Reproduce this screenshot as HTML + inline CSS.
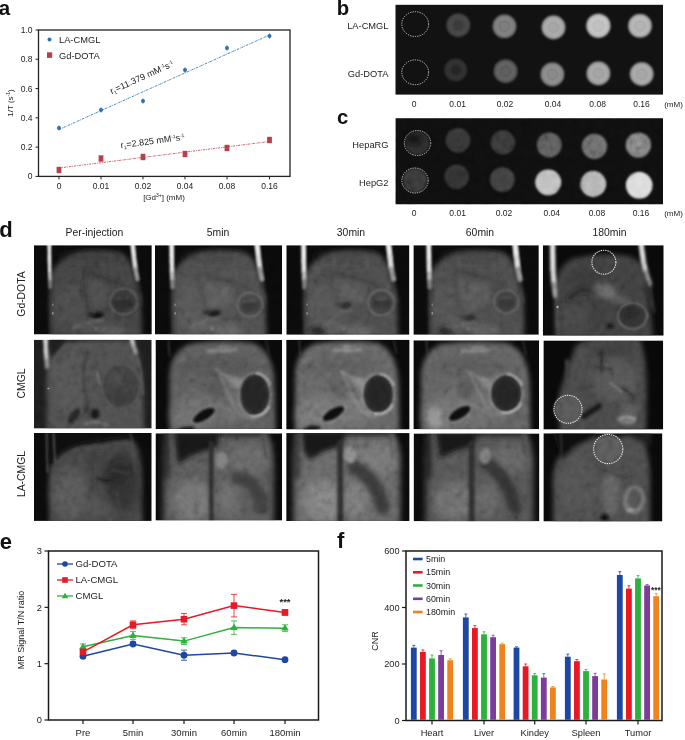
<!DOCTYPE html>
<html><head><meta charset="utf-8"><title>Figure</title>
<style>html,body{margin:0;padding:0;background:#fff}svg{display:block;filter:blur(0.45px);font-family:'Liberation Sans', sans-serif}</style></head><body>
<svg width="685" height="740" viewBox="0 0 685 740">
<defs><filter id="b1" x="-20%" y="-20%" width="140%" height="140%"><feGaussianBlur stdDeviation="0.9"/></filter><filter id="b2" x="-30%" y="-30%" width="160%" height="160%"><feGaussianBlur stdDeviation="2"/></filter><filter id="b3" x="-30%" y="-30%" width="160%" height="160%"><feGaussianBlur stdDeviation="3.5"/></filter><filter id="b5" x="-40%" y="-40%" width="180%" height="180%"><feGaussianBlur stdDeviation="6"/></filter><filter id="noise" x="0" y="0" width="100%" height="100%"><feTurbulence type="fractalNoise" baseFrequency="0.14" numOctaves="2" seed="7" result="t"/><feColorMatrix in="t" type="matrix" values="0.6 0.6 0.6 0 -0.4  0.6 0.6 0.6 0 -0.4  0.6 0.6 0.6 0 -0.4  0 0 0 0 1"/><feGaussianBlur stdDeviation="0.7"/></filter><filter id="f0_6" filterUnits="userSpaceOnUse" x="20" y="235" width="655" height="295"><feGaussianBlur stdDeviation="0.6"/></filter><filter id="f1" filterUnits="userSpaceOnUse" x="20" y="235" width="655" height="295"><feGaussianBlur stdDeviation="1"/></filter><filter id="f1_5" filterUnits="userSpaceOnUse" x="20" y="235" width="655" height="295"><feGaussianBlur stdDeviation="1.5"/></filter><filter id="f2" filterUnits="userSpaceOnUse" x="20" y="235" width="655" height="295"><feGaussianBlur stdDeviation="2"/></filter><filter id="f2_5" filterUnits="userSpaceOnUse" x="20" y="235" width="655" height="295"><feGaussianBlur stdDeviation="2.5"/></filter><filter id="f4" filterUnits="userSpaceOnUse" x="20" y="235" width="655" height="295"><feGaussianBlur stdDeviation="4"/></filter></defs>
<rect width="685" height="740" fill="#fff"/>
<g id="pa">
<text x="-1.2" y="15.3" font-size="20.5" text-anchor="start" font-weight="bold" fill="#111" >a</text>
<rect x="38.5" y="30" width="251.5" height="146.4" fill="none" stroke="#222" stroke-width="1.3"/>
<line x1="35.5" y1="30.0" x2="38.5" y2="30.0" stroke="#222" stroke-width="1"/>
<text x="32.5" y="33.0" font-size="8.5" text-anchor="end" font-weight="normal" fill="#222" >1.0</text>
<line x1="35.5" y1="59.28" x2="38.5" y2="59.28" stroke="#222" stroke-width="1"/>
<text x="32.5" y="62.28" font-size="8.5" text-anchor="end" font-weight="normal" fill="#222" >0.8</text>
<line x1="35.5" y1="88.56" x2="38.5" y2="88.56" stroke="#222" stroke-width="1"/>
<text x="32.5" y="91.56" font-size="8.5" text-anchor="end" font-weight="normal" fill="#222" >0.6</text>
<line x1="35.5" y1="117.84" x2="38.5" y2="117.84" stroke="#222" stroke-width="1"/>
<text x="32.5" y="120.84" font-size="8.5" text-anchor="end" font-weight="normal" fill="#222" >0.4</text>
<line x1="35.5" y1="147.12" x2="38.5" y2="147.12" stroke="#222" stroke-width="1"/>
<text x="32.5" y="150.12" font-size="8.5" text-anchor="end" font-weight="normal" fill="#222" >0.2</text>
<line x1="35.5" y1="176.4" x2="38.5" y2="176.4" stroke="#222" stroke-width="1"/>
<text x="32.5" y="179.4" font-size="8.5" text-anchor="end" font-weight="normal" fill="#222" >0</text>
<line x1="59" y1="176.4" x2="59" y2="179.4" stroke="#222" stroke-width="1"/>
<text x="59" y="189.4" font-size="8.5" text-anchor="middle" font-weight="normal" fill="#222" >0</text>
<line x1="101" y1="176.4" x2="101" y2="179.4" stroke="#222" stroke-width="1"/>
<text x="101" y="189.4" font-size="8.5" text-anchor="middle" font-weight="normal" fill="#222" >0.01</text>
<line x1="143" y1="176.4" x2="143" y2="179.4" stroke="#222" stroke-width="1"/>
<text x="143" y="189.4" font-size="8.5" text-anchor="middle" font-weight="normal" fill="#222" >0.02</text>
<line x1="185" y1="176.4" x2="185" y2="179.4" stroke="#222" stroke-width="1"/>
<text x="185" y="189.4" font-size="8.5" text-anchor="middle" font-weight="normal" fill="#222" >0.04</text>
<line x1="227" y1="176.4" x2="227" y2="179.4" stroke="#222" stroke-width="1"/>
<text x="227" y="189.4" font-size="8.5" text-anchor="middle" font-weight="normal" fill="#222" >0.08</text>
<line x1="269.5" y1="176.4" x2="269.5" y2="179.4" stroke="#222" stroke-width="1"/>
<text x="269.5" y="189.4" font-size="8.5" text-anchor="middle" font-weight="normal" fill="#222" >0.16</text>
<text x="164" y="200" font-size="8" text-anchor="middle" font-weight="normal" fill="#222" >[Gd<tspan font-size="5" dy="-3">3+</tspan><tspan dy="3">] (mM)</tspan></text>
<text transform="translate(13,103) rotate(-90)" font-size="8" text-anchor="middle" fill="#222">1/T (s<tspan font-size="5" dy="-3">-1</tspan><tspan dy="3">)</tspan></text>
<line x1="59" y1="129.5" x2="269.5" y2="35" stroke="#4a86c8" stroke-width="1" stroke-dasharray="2.4,0.9,0.8,0.9"/>
<line x1="59" y1="168" x2="269.5" y2="141.5" stroke="#cc6870" stroke-width="1" stroke-dasharray="2.4,0.9,0.8,0.9"/>
<line x1="59" y1="125.5" x2="59" y2="130.5" stroke="#2f6fb8" stroke-width="1"/>
<circle cx="59" cy="128" r="2" fill="#2f6fb8"/>
<line x1="101" y1="107.5" x2="101" y2="112.5" stroke="#2f6fb8" stroke-width="1"/>
<circle cx="101" cy="110" r="2" fill="#2f6fb8"/>
<line x1="143" y1="98.5" x2="143" y2="103.5" stroke="#2f6fb8" stroke-width="1"/>
<circle cx="143" cy="101" r="2" fill="#2f6fb8"/>
<line x1="185" y1="67.5" x2="185" y2="72.5" stroke="#2f6fb8" stroke-width="1"/>
<circle cx="185" cy="70" r="2" fill="#2f6fb8"/>
<line x1="227" y1="45.5" x2="227" y2="50.5" stroke="#2f6fb8" stroke-width="1"/>
<circle cx="227" cy="48" r="2" fill="#2f6fb8"/>
<line x1="269.5" y1="33.5" x2="269.5" y2="38.5" stroke="#2f6fb8" stroke-width="1"/>
<circle cx="269.5" cy="36" r="2" fill="#2f6fb8"/>
<rect x="56.6" y="166.8" width="4.8" height="6.4" fill="#b8404a"/>
<rect x="98.6" y="155.3" width="4.8" height="6.4" fill="#b8404a"/>
<rect x="140.6" y="153.8" width="4.8" height="6.4" fill="#b8404a"/>
<rect x="182.6" y="150.8" width="4.8" height="6.4" fill="#b8404a"/>
<rect x="224.6" y="144.8" width="4.8" height="6.4" fill="#b8404a"/>
<rect x="267.1" y="136.8" width="4.8" height="6.4" fill="#b8404a"/>
<circle cx="49.5" cy="39.5" r="2" fill="#2f6fb8"/>
<text x="59" y="42.8" font-size="9.3" text-anchor="start" font-weight="normal" fill="#222" >LA-CMGL</text>
<rect x="47" y="52.3" width="5.2" height="5.6" fill="#b8404a"/>
<text x="59" y="58.6" font-size="9.3" text-anchor="start" font-weight="normal" fill="#222" >Gd-DOTA</text>
<text transform="translate(143,80) rotate(-24.5)" font-size="9" text-anchor="middle" fill="#222">r<tspan font-size="5" dy="1.5">1</tspan><tspan dy="-1.5">=11.379 mM</tspan><tspan font-size="5" dy="-3">-1</tspan><tspan dy="3">s</tspan><tspan font-size="5" dy="-3">-1</tspan></text>
<text transform="translate(153,144) rotate(-7.5)" font-size="9" text-anchor="middle" fill="#222">r<tspan font-size="5" dy="1.5">1</tspan><tspan dy="-1.5">=2.825 mM</tspan><tspan font-size="5" dy="-3">-1</tspan><tspan dy="3">s</tspan><tspan font-size="5" dy="-3">-1</tspan></text>
</g>
<g id="pb">
<text x="336.7" y="15.2" font-size="20.3" text-anchor="start" font-weight="bold" fill="#111" >b</text>
<rect x="395.5" y="4.8" width="267.5" height="89.8" fill="rgb(18,18,18)"/>
<g filter="url(#b1)">
<circle cx="458.3" cy="25.2" r="11.8" fill="rgb(70,70,70)"/>
<circle cx="458.3" cy="25.2" r="5.3" fill="rgb(58,58,58)"/>
</g>
<g filter="url(#b1)">
<circle cx="504.5" cy="26.3" r="11.8" fill="rgb(122,122,122)"/>
<circle cx="504.5" cy="26.3" r="7.3" fill="none" stroke="rgb(142,142,142)" stroke-width="1.3"/><circle cx="504.5" cy="26.3" r="5.0" fill="none" stroke="rgb(108,108,108)" stroke-width="0.9"/><circle cx="504.5" cy="26.3" r="2.8" fill="none" stroke="rgb(138,138,138)" stroke-width="1"/>
</g>
<g filter="url(#b1)">
<circle cx="553.5" cy="27.4" r="11.8" fill="rgb(164,164,164)"/>
<circle cx="553.5" cy="27.4" r="7.3" fill="none" stroke="rgb(184,184,184)" stroke-width="1.3"/><circle cx="553.5" cy="27.4" r="5.0" fill="none" stroke="rgb(150,150,150)" stroke-width="0.9"/><circle cx="553.5" cy="27.4" r="2.8" fill="none" stroke="rgb(180,180,180)" stroke-width="1"/>
</g>
<g filter="url(#b1)">
<circle cx="598.4" cy="25.8" r="12.1" fill="rgb(190,190,190)"/>
<circle cx="598.4" cy="25.8" r="7.5" fill="none" stroke="rgb(210,210,210)" stroke-width="1.3"/><circle cx="598.4" cy="25.8" r="5.1" fill="none" stroke="rgb(176,176,176)" stroke-width="0.9"/><circle cx="598.4" cy="25.8" r="2.9" fill="none" stroke="rgb(206,206,206)" stroke-width="1"/>
</g>
<g filter="url(#b1)">
<circle cx="640" cy="25.8" r="11.8" fill="rgb(176,176,176)"/>
<circle cx="640" cy="25.8" r="7.3" fill="none" stroke="rgb(196,196,196)" stroke-width="1.3"/><circle cx="640" cy="25.8" r="5.0" fill="none" stroke="rgb(162,162,162)" stroke-width="0.9"/><circle cx="640" cy="25.8" r="2.8" fill="none" stroke="rgb(192,192,192)" stroke-width="1"/>
</g>
<g filter="url(#b1)">
<circle cx="455.7" cy="70" r="11.3" fill="rgb(50,50,50)"/>
<circle cx="455.7" cy="70" r="5.1" fill="rgb(38,38,38)"/>
</g>
<g filter="url(#b1)">
<circle cx="505.6" cy="71.2" r="11.8" fill="rgb(92,92,92)"/>
<circle cx="505.6" cy="71.2" r="7.3" fill="none" stroke="rgb(112,112,112)" stroke-width="1.3"/><circle cx="505.6" cy="71.2" r="5.0" fill="none" stroke="rgb(78,78,78)" stroke-width="0.9"/><circle cx="505.6" cy="71.2" r="2.8" fill="none" stroke="rgb(108,108,108)" stroke-width="1"/>
</g>
<g filter="url(#b1)">
<circle cx="552.4" cy="74.4" r="11.8" fill="rgb(135,135,135)"/>
<circle cx="552.4" cy="74.4" r="7.3" fill="none" stroke="rgb(155,155,155)" stroke-width="1.3"/><circle cx="552.4" cy="74.4" r="5.0" fill="none" stroke="rgb(121,121,121)" stroke-width="0.9"/><circle cx="552.4" cy="74.4" r="2.8" fill="none" stroke="rgb(151,151,151)" stroke-width="1"/>
</g>
<g filter="url(#b1)">
<circle cx="598.4" cy="73.4" r="11.8" fill="rgb(162,162,162)"/>
<circle cx="598.4" cy="73.4" r="7.3" fill="none" stroke="rgb(182,182,182)" stroke-width="1.3"/><circle cx="598.4" cy="73.4" r="5.0" fill="none" stroke="rgb(148,148,148)" stroke-width="0.9"/><circle cx="598.4" cy="73.4" r="2.8" fill="none" stroke="rgb(178,178,178)" stroke-width="1"/>
</g>
<g filter="url(#b1)">
<circle cx="641.7" cy="74" r="11.8" fill="rgb(164,164,164)"/>
<circle cx="641.7" cy="74" r="7.3" fill="none" stroke="rgb(184,184,184)" stroke-width="1.3"/><circle cx="641.7" cy="74" r="5.0" fill="none" stroke="rgb(150,150,150)" stroke-width="0.9"/><circle cx="641.7" cy="74" r="2.8" fill="none" stroke="rgb(180,180,180)" stroke-width="1"/>
</g>
<text x="388.5" y="28.7" font-size="9.3" text-anchor="end" font-weight="normal" fill="#222" >LA-CMGL</text>
<text x="388.5" y="76.7" font-size="9.3" text-anchor="end" font-weight="normal" fill="#222" >Gd-DOTA</text>
<text x="414.2" y="106.5" font-size="8.5" text-anchor="middle" font-weight="normal" fill="#222" >0</text>
<text x="457.6" y="106.5" font-size="8.5" text-anchor="middle" font-weight="normal" fill="#222" >0.01</text>
<text x="505" y="106.5" font-size="8.5" text-anchor="middle" font-weight="normal" fill="#222" >0.02</text>
<text x="553" y="106.5" font-size="8.5" text-anchor="middle" font-weight="normal" fill="#222" >0.04</text>
<text x="597.6" y="106.5" font-size="8.5" text-anchor="middle" font-weight="normal" fill="#222" >0.08</text>
<text x="641.5" y="106.5" font-size="8.5" text-anchor="middle" font-weight="normal" fill="#222" >0.16</text>
<text x="673.5" y="106.5" font-size="8" text-anchor="middle" font-weight="normal" fill="#222" >(mM)</text>
</g>
<ellipse cx="415.2" cy="24.1" rx="13.4" ry="12.4" fill="none" stroke="#d0d0d0" stroke-width="0.9" stroke-dasharray="1.3,1.1"/>
<ellipse cx="415.2" cy="72.3" rx="13.4" ry="12.4" fill="none" stroke="#d0d0d0" stroke-width="0.9" stroke-dasharray="1.3,1.1"/>
<g id="pc">
<text x="337" y="124.1" font-size="20.3" text-anchor="start" font-weight="bold" fill="#111" >c</text>
<rect x="395.5" y="118.2" width="267.5" height="86.10000000000001" fill="rgb(14,14,14)"/>
<g filter="url(#b1)">
<circle cx="417.5" cy="143" r="12" fill="rgb(43,43,43)"/>

</g>
<g filter="url(#b1)">
<circle cx="458" cy="140.2" r="12.3" fill="rgb(51,51,51)"/>

</g>
<g filter="url(#b1)">
<circle cx="502.9" cy="142.4" r="12.2" fill="rgb(52,52,52)"/>

</g>
<g filter="url(#b1)">
<circle cx="549.3" cy="145" r="12.4" fill="rgb(86,86,86)"/>

</g>
<g filter="url(#b1)">
<circle cx="594.5" cy="146.3" r="12.6" fill="rgb(100,100,100)"/>

</g>
<g filter="url(#b1)">
<circle cx="638.4" cy="145" r="12.6" fill="rgb(120,120,120)"/>

</g>
<g filter="url(#b1)">
<circle cx="415" cy="180.5" r="12" fill="rgb(52,52,52)"/>

</g>
<g filter="url(#b1)">
<circle cx="456.7" cy="176.8" r="12.2" fill="rgb(47,47,47)"/>

</g>
<g filter="url(#b1)">
<circle cx="502.3" cy="179.6" r="12.4" fill="rgb(59,59,59)"/>

</g>
<g filter="url(#b1)">
<circle cx="548.2" cy="182.3" r="12.9" fill="rgb(184,184,184)"/>

</g>
<g filter="url(#b1)">
<circle cx="593.2" cy="184" r="12.9" fill="rgb(172,172,172)"/>

</g>
<g filter="url(#b1)">
<circle cx="639.2" cy="185.3" r="13.2" fill="rgb(216,216,216)"/>

</g>
<rect x="395.5" y="118.2" width="267.5" height="86.10000000000001" filter="url(#noise)" opacity="0.3" style="mix-blend-mode:overlay"/>
<text x="388.5" y="148.2" font-size="9.3" text-anchor="end" font-weight="normal" fill="#222" >HepaRG</text>
<text x="388.5" y="185.7" font-size="9.3" text-anchor="end" font-weight="normal" fill="#222" >HepG2</text>
<text x="414" y="215.5" font-size="8.5" text-anchor="middle" font-weight="normal" fill="#222" >0</text>
<text x="457.6" y="215.5" font-size="8.5" text-anchor="middle" font-weight="normal" fill="#222" >0.01</text>
<text x="504" y="215.5" font-size="8.5" text-anchor="middle" font-weight="normal" fill="#222" >0.02</text>
<text x="551.8" y="215.5" font-size="8.5" text-anchor="middle" font-weight="normal" fill="#222" >0.04</text>
<text x="597" y="215.5" font-size="8.5" text-anchor="middle" font-weight="normal" fill="#222" >0.08</text>
<text x="641" y="215.5" font-size="8.5" text-anchor="middle" font-weight="normal" fill="#222" >0.16</text>
<text x="673.5" y="215.5" font-size="8" text-anchor="middle" font-weight="normal" fill="#222" >(mM)</text>
</g>
<g filter="url(#b2)"><ellipse cx="414" cy="139" rx="8" ry="6" fill="#141414" fill-opacity="0.8"/></g>
<ellipse cx="417.5" cy="143" rx="13.2" ry="12.5" fill="none" stroke="#d0d0d0" stroke-width="0.9" stroke-dasharray="1.3,1.1"/>
<ellipse cx="415" cy="180.5" rx="13.2" ry="12.5" fill="none" stroke="#d0d0d0" stroke-width="0.9" stroke-dasharray="1.3,1.1"/>
<g id="pd">
<text x="-0.8" y="236.6" font-size="22" text-anchor="start" font-weight="bold" fill="#111" >d</text>
<text x="94.5" y="236" font-size="10.4" text-anchor="middle" font-weight="normal" fill="#222" >Per-injection</text>
<text x="218" y="236" font-size="10.4" text-anchor="middle" font-weight="normal" fill="#222" >5min</text>
<text x="351" y="236" font-size="10.4" text-anchor="middle" font-weight="normal" fill="#222" >30min</text>
<text x="480" y="236" font-size="10.4" text-anchor="middle" font-weight="normal" fill="#222" >60min</text>
<text x="609.5" y="236" font-size="10.4" text-anchor="middle" font-weight="normal" fill="#222" >180min</text>
<text transform="translate(24.5,294) rotate(-90)" font-size="10.4" text-anchor="middle" fill="#222">Gd-DOTA</text>
<text transform="translate(24.5,383.5) rotate(-90)" font-size="10.4" text-anchor="middle" fill="#222">CMGL</text>
<text transform="translate(24.5,474) rotate(-90)" font-size="10.4" text-anchor="middle" fill="#222">LA-CMGL</text>
<clipPath id="c11"><rect x="34" y="245.2" width="117.8" height="89.3"/></clipPath>
<g clip-path="url(#c11)">
<rect x="34" y="245.2" width="117.8" height="89.3" fill="rgb(10,10,10)"/>
<g filter="url(#f2_5)"><path d="M50.8,337.5 L50.8,277.2 Q54.3,260.2 75.3,253.2 Q91.65,248.2 120,252.2 Q131,257.2 135,277.2 L141,297.2 L142,337.5 Z" fill="rgb(64,64,64)"/></g>
<g filter="url(#f4)"><ellipse cx="91.65" cy="257.2" rx="34" ry="5" fill="rgb(42,42,42)" fill-opacity="0.45"/><ellipse cx="71.3" cy="307.2" rx="18" ry="24" fill="rgb(72,72,72)" fill-opacity="0.8"/></g>
<g filter="url(#f1_5)"><path d="M79.3,253.2 L80.3,285.2" fill="none" stroke="rgb(82,82,82)" stroke-width="1.5" stroke-linecap="round" stroke-opacity="0.6"/><path d="M110,253.2 L112,281.2" fill="none" stroke="rgb(78,78,78)" stroke-width="1.5" stroke-linecap="round" stroke-opacity="0.5"/></g>
<g filter="url(#f2)"><path d="M83,269.6 L107.7,279.6 L121.7,284.6" fill="none" stroke="rgb(40,40,40)" stroke-width="2.6" stroke-linecap="round" stroke-opacity="0.75"/><path d="M83,269.6 Q84,295.5 90,312.5" fill="none" stroke="rgb(40,40,40)" stroke-width="2.2" stroke-linecap="round" stroke-opacity="0.6"/></g>
<g filter="url(#f2_5)"><path d="M87,280.6 L105.7,283.6 L107.7,301.6 L93,310.5 Z" fill="rgb(78,78,78)" fill-opacity="0.8"/></g>
<g filter="url(#f1_5)"><ellipse cx="123.7" cy="301.6" rx="13.5" ry="13.5" fill="rgb(54,54,54)"/></g>
<g filter="url(#f1)"><ellipse cx="123.7" cy="301.6" rx="13.5" ry="13.0" fill="none" stroke="rgb(88,88,88)" stroke-width="1.7"/></g>
<g filter="url(#f1_5)"><ellipse cx="123.7" cy="303.1" rx="9.5" ry="6.5" fill="rgb(42,42,42)"/></g>
<g filter="url(#f1)"><path d="M117.7,298.6 L128.7,297.6" fill="none" stroke="rgb(89,89,89)" stroke-width="1.2" stroke-linecap="round" stroke-opacity="0.7"/></g>
<g filter="url(#f1_5)"><ellipse cx="98" cy="315.5" rx="6" ry="3.2" fill="rgb(14,14,14)" transform="rotate(-12 98 315.5)"/><ellipse cx="91" cy="314.5" rx="4" ry="2.5" fill="rgb(29,29,29)" fill-opacity="0.8"/><path d="M74,327.5 L94,321.5 L104,320.5" fill="none" stroke="rgb(119,119,119)" stroke-width="1.8" stroke-linecap="round" stroke-opacity="0.8"/></g>
<g filter="url(#f1)"><ellipse cx="96" cy="328.5" rx="1.8" ry="1.8" fill="rgb(170,170,170)" fill-opacity="0.7"/></g>
<g filter="url(#f2_5)"><ellipse cx="112" cy="330.5" rx="14" ry="6" fill="rgb(86,86,86)" fill-opacity="0.8"/><ellipse cx="88" cy="326.5" rx="14" ry="5" fill="rgb(80,80,80)" fill-opacity="0.7"/></g>
<g filter="url(#f1)"><path d="M49.3,243.2L49.5,261.2" fill="none" stroke="rgb(240,240,240)" stroke-width="3.4" stroke-linecap="round"/><path d="M49.5,261.2L49.699999999999996,273.2" fill="none" stroke="rgb(225,225,225)" stroke-width="3.4" stroke-linecap="round"/><path d="M49.699999999999996,273.2L50.099999999999994,281.2" fill="none" stroke="rgb(175,175,175)" stroke-width="3.4" stroke-linecap="round"/><path d="M50.099999999999994,281.2L50.3,287.2" fill="none" stroke="rgb(115,115,115)" stroke-width="3.4" stroke-linecap="round"/></g>
<g filter="url(#f1_5)"><path d="M50.3,287.2 L50.8,334.5" fill="none" stroke="rgb(76,76,76)" stroke-width="1.3" stroke-linecap="round" stroke-opacity="0.7"/></g>
<g filter="url(#f1)"><path d="M132.5,243.2L134,257.2" fill="none" stroke="rgb(235,235,235)" stroke-width="4.4" stroke-linecap="round"/><path d="M134,257.2L135.5,269.2" fill="none" stroke="rgb(215,215,215)" stroke-width="4.4" stroke-linecap="round"/><path d="M135.5,269.2L137.5,279.2" fill="none" stroke="rgb(140,140,140)" stroke-width="4.4" stroke-linecap="round"/></g>
<g filter="url(#f1_5)"><path d="M137.5,279.2 L141,303.2" fill="none" stroke="rgb(74,74,74)" stroke-width="1.3" stroke-linecap="round" stroke-opacity="0.6"/></g>
<g filter="url(#f0_6)"><ellipse cx="52.8" cy="304.7" rx="0.9" ry="1.3" fill="rgb(112,112,112)"/><ellipse cx="52.8" cy="313.2" rx="0.9" ry="1.5" fill="rgb(122,122,122)"/></g>
<rect x="34" y="245.2" width="117.8" height="89.3" filter="url(#noise)" opacity="0.2" style="mix-blend-mode:overlay"/>
</g>
<clipPath id="c12"><rect x="155" y="245.2" width="127.1" height="89.3"/></clipPath>
<g clip-path="url(#c12)">
<rect x="155" y="245.2" width="127.1" height="89.3" fill="rgb(10,10,10)"/>
<g filter="url(#f2_5)"><path d="M173.1,337.5 L173.1,277.2 Q176.6,260.2 197.6,253.2 Q215.05,248.2 244.5,252.2 Q255.5,257.2 259.5,277.2 L265.5,297.2 L266.5,337.5 Z" fill="rgb(76,76,76)"/></g>
<g filter="url(#f4)"><ellipse cx="215.05" cy="257.2" rx="34" ry="5" fill="rgb(54,54,54)" fill-opacity="0.45"/><ellipse cx="193.6" cy="307.2" rx="18" ry="24" fill="rgb(84,84,84)" fill-opacity="0.8"/></g>
<g filter="url(#f1_5)"><path d="M201.6,253.2 L202.6,285.2" fill="none" stroke="rgb(94,94,94)" stroke-width="1.5" stroke-linecap="round" stroke-opacity="0.6"/><path d="M234.5,253.2 L236.5,281.2" fill="none" stroke="rgb(90,90,90)" stroke-width="1.5" stroke-linecap="round" stroke-opacity="0.5"/></g>
<g filter="url(#f2)"><path d="M199.6,272.6 L233.8,282.6 L247.8,287.6" fill="none" stroke="rgb(52,52,52)" stroke-width="2.6" stroke-linecap="round" stroke-opacity="0.75"/><path d="M199.6,272.6 Q200.6,293.4 206.6,310.4" fill="none" stroke="rgb(52,52,52)" stroke-width="2.2" stroke-linecap="round" stroke-opacity="0.6"/></g>
<g filter="url(#f2_5)"><path d="M203.6,283.6 L231.8,286.6 L233.8,304.6 L209.6,308.4 Z" fill="rgb(90,90,90)" fill-opacity="0.8"/></g>
<g filter="url(#f1_5)"><ellipse cx="249.8" cy="304.6" rx="12.5" ry="12.5" fill="rgb(66,66,66)"/></g>
<g filter="url(#f1)"><ellipse cx="249.8" cy="304.6" rx="12.5" ry="12.0" fill="none" stroke="rgb(100,100,100)" stroke-width="1.7"/></g>
<g filter="url(#f1_5)"><ellipse cx="249.8" cy="306.1" rx="8.5" ry="5.5" fill="rgb(54,54,54)"/></g>
<g filter="url(#f1)"><path d="M243.8,301.6 L254.8,300.6" fill="none" stroke="rgb(101,101,101)" stroke-width="1.2" stroke-linecap="round" stroke-opacity="0.7"/></g>
<g filter="url(#f1_5)"><ellipse cx="214.6" cy="313.4" rx="6" ry="3.2" fill="rgb(18,18,18)" transform="rotate(-12 214.6 313.4)"/><ellipse cx="207.6" cy="312.4" rx="4" ry="2.5" fill="rgb(33,33,33)" fill-opacity="0.8"/><path d="M190.6,327.5 L210.6,319.4 L220.6,318.4" fill="none" stroke="rgb(116,116,116)" stroke-width="1.8" stroke-linecap="round" stroke-opacity="0.8"/></g>
<g filter="url(#f1)"><ellipse cx="212.6" cy="328.5" rx="1.8" ry="1.8" fill="rgb(170,170,170)" fill-opacity="0.7"/></g>
<g filter="url(#f2_5)"><ellipse cx="228.6" cy="330.5" rx="14" ry="6" fill="rgb(98,98,98)" fill-opacity="0.8"/><ellipse cx="204.6" cy="326.5" rx="14" ry="5" fill="rgb(92,92,92)" fill-opacity="0.7"/></g>
<g filter="url(#f1)"><path d="M171.6,243.2L171.79999999999998,261.2" fill="none" stroke="rgb(240,240,240)" stroke-width="4.4" stroke-linecap="round"/><path d="M171.79999999999998,261.2L172.0,273.2" fill="none" stroke="rgb(225,225,225)" stroke-width="4.4" stroke-linecap="round"/><path d="M172.0,273.2L172.4,281.2" fill="none" stroke="rgb(175,175,175)" stroke-width="4.4" stroke-linecap="round"/><path d="M172.4,281.2L172.6,287.2" fill="none" stroke="rgb(115,115,115)" stroke-width="4.4" stroke-linecap="round"/></g>
<g filter="url(#f1_5)"><path d="M172.6,287.2 L173.1,334.5" fill="none" stroke="rgb(88,88,88)" stroke-width="1.3" stroke-linecap="round" stroke-opacity="0.7"/></g>
<g filter="url(#f1)"><path d="M257.0,243.2L258.5,257.2" fill="none" stroke="rgb(235,235,235)" stroke-width="5" stroke-linecap="round"/><path d="M258.5,257.2L260.0,269.2" fill="none" stroke="rgb(215,215,215)" stroke-width="5" stroke-linecap="round"/><path d="M260.0,269.2L262.0,279.2" fill="none" stroke="rgb(140,140,140)" stroke-width="5" stroke-linecap="round"/></g>
<g filter="url(#f1_5)"><path d="M262.0,279.2 L265.5,303.2" fill="none" stroke="rgb(86,86,86)" stroke-width="1.3" stroke-linecap="round" stroke-opacity="0.6"/></g>
<g filter="url(#f0_6)"><ellipse cx="175.1" cy="304.7" rx="0.9" ry="1.3" fill="rgb(112,112,112)"/><ellipse cx="175.1" cy="313.2" rx="0.9" ry="1.5" fill="rgb(122,122,122)"/></g>
<rect x="155" y="245.2" width="127.1" height="89.3" filter="url(#noise)" opacity="0.2" style="mix-blend-mode:overlay"/>
</g>
<clipPath id="c13"><rect x="286.3" y="245.2" width="123.1" height="89.6"/></clipPath>
<g clip-path="url(#c13)">
<rect x="286.3" y="245.2" width="123.1" height="89.6" fill="rgb(10,10,10)"/>
<g filter="url(#f2_5)"><path d="M305.1,337.8 L305.1,277.2 Q308.6,260.2 329.6,253.2 Q346.8,248.2 376,252.2 Q387,257.2 391,277.2 L397,297.2 L398,337.8 Z" fill="rgb(74,74,74)"/></g>
<g filter="url(#f4)"><ellipse cx="346.8" cy="257.2" rx="34" ry="5" fill="rgb(52,52,52)" fill-opacity="0.45"/><ellipse cx="325.6" cy="307.2" rx="18" ry="24" fill="rgb(82,82,82)" fill-opacity="0.8"/></g>
<g filter="url(#f1_5)"><path d="M333.6,253.2 L334.6,285.2" fill="none" stroke="rgb(92,92,92)" stroke-width="1.5" stroke-linecap="round" stroke-opacity="0.6"/><path d="M366,253.2 L368,281.2" fill="none" stroke="rgb(88,88,88)" stroke-width="1.5" stroke-linecap="round" stroke-opacity="0.5"/></g>
<g filter="url(#f2)"><path d="M330.7,270.7 L365.2,280.7 L379.2,285.7" fill="none" stroke="rgb(50,50,50)" stroke-width="2.6" stroke-linecap="round" stroke-opacity="0.75"/><path d="M330.7,270.7 Q331.7,285.5 337.7,302.5" fill="none" stroke="rgb(50,50,50)" stroke-width="2.2" stroke-linecap="round" stroke-opacity="0.6"/></g>
<g filter="url(#f2_5)"><path d="M334.7,281.7 L363.2,284.7 L365.2,302.7 L340.7,300.5 Z" fill="rgb(88,88,88)" fill-opacity="0.8"/></g>
<g filter="url(#f1_5)"><ellipse cx="381.2" cy="302.7" rx="13" ry="13" fill="rgb(64,64,64)"/></g>
<g filter="url(#f1)"><ellipse cx="381.2" cy="302.7" rx="13" ry="12.5" fill="none" stroke="rgb(98,98,98)" stroke-width="1.7"/></g>
<g filter="url(#f1_5)"><ellipse cx="381.2" cy="304.2" rx="9" ry="6" fill="rgb(52,52,52)"/></g>
<g filter="url(#f1)"><path d="M375.2,299.7 L386.2,298.7" fill="none" stroke="rgb(99,99,99)" stroke-width="1.2" stroke-linecap="round" stroke-opacity="0.7"/></g>
<g filter="url(#f1_5)"><ellipse cx="345.7" cy="305.5" rx="6" ry="3.2" fill="rgb(44,44,44)" transform="rotate(-12 345.7 305.5)"/><ellipse cx="338.7" cy="304.5" rx="4" ry="2.5" fill="rgb(59,59,59)" fill-opacity="0.8"/><path d="M321.7,327.8 L341.7,311.5 L351.7,310.5" fill="none" stroke="rgb(99,99,99)" stroke-width="1.8" stroke-linecap="round" stroke-opacity="0.8"/></g>
<g filter="url(#f2_5)"><ellipse cx="318" cy="331" rx="8" ry="4" fill="rgb(24,24,24)" fill-opacity="0.9"/></g>
<g filter="url(#f1)"><ellipse cx="343.7" cy="328.8" rx="1.8" ry="1.8" fill="rgb(170,170,170)" fill-opacity="0.7"/></g>
<g filter="url(#f2_5)"><ellipse cx="359.7" cy="330.8" rx="14" ry="6" fill="rgb(96,96,96)" fill-opacity="0.8"/><ellipse cx="335.7" cy="326.8" rx="14" ry="5" fill="rgb(90,90,90)" fill-opacity="0.7"/></g>
<g filter="url(#f1)"><path d="M303.6,243.2L303.8,261.2" fill="none" stroke="rgb(240,240,240)" stroke-width="4.6" stroke-linecap="round"/><path d="M303.8,261.2L304.0,273.2" fill="none" stroke="rgb(225,225,225)" stroke-width="4.6" stroke-linecap="round"/><path d="M304.0,273.2L304.40000000000003,281.2" fill="none" stroke="rgb(175,175,175)" stroke-width="4.6" stroke-linecap="round"/><path d="M304.40000000000003,281.2L304.6,287.2" fill="none" stroke="rgb(115,115,115)" stroke-width="4.6" stroke-linecap="round"/></g>
<g filter="url(#f1_5)"><path d="M304.6,287.2 L305.1,334.8" fill="none" stroke="rgb(86,86,86)" stroke-width="1.3" stroke-linecap="round" stroke-opacity="0.7"/></g>
<g filter="url(#f1)"><path d="M388.5,243.2L390,257.2" fill="none" stroke="rgb(235,235,235)" stroke-width="5.2" stroke-linecap="round"/><path d="M390,257.2L391.5,269.2" fill="none" stroke="rgb(215,215,215)" stroke-width="5.2" stroke-linecap="round"/><path d="M391.5,269.2L393.5,279.2" fill="none" stroke="rgb(140,140,140)" stroke-width="5.2" stroke-linecap="round"/></g>
<g filter="url(#f1_5)"><path d="M393.5,279.2 L397,303.2" fill="none" stroke="rgb(84,84,84)" stroke-width="1.3" stroke-linecap="round" stroke-opacity="0.6"/></g>
<g filter="url(#f0_6)"><ellipse cx="307.1" cy="304.7" rx="0.9" ry="1.3" fill="rgb(112,112,112)"/><ellipse cx="307.1" cy="313.2" rx="0.9" ry="1.5" fill="rgb(122,122,122)"/></g>
<rect x="286.3" y="245.2" width="123.1" height="89.6" filter="url(#noise)" opacity="0.2" style="mix-blend-mode:overlay"/>
</g>
<clipPath id="c14"><rect x="413.4" y="245.2" width="125.4" height="89.6"/></clipPath>
<g clip-path="url(#c14)">
<rect x="413.4" y="245.2" width="125.4" height="89.6" fill="rgb(10,10,10)"/>
<g filter="url(#f2_5)"><path d="M430.3,337.8 L430.3,277.2 Q433.8,260.2 454.8,253.2 Q472.65,248.2 502.5,252.2 Q513.5,257.2 517.5,277.2 L523.5,297.2 L524.5,337.8 Z" fill="rgb(72,72,72)"/></g>
<g filter="url(#f4)"><ellipse cx="472.65" cy="257.2" rx="34" ry="5" fill="rgb(50,50,50)" fill-opacity="0.45"/><ellipse cx="450.8" cy="307.2" rx="18" ry="24" fill="rgb(80,80,80)" fill-opacity="0.8"/></g>
<g filter="url(#f1_5)"><path d="M458.8,253.2 L459.8,285.2" fill="none" stroke="rgb(90,90,90)" stroke-width="1.5" stroke-linecap="round" stroke-opacity="0.6"/><path d="M492.5,253.2 L494.5,281.2" fill="none" stroke="rgb(86,86,86)" stroke-width="1.5" stroke-linecap="round" stroke-opacity="0.5"/></g>
<g filter="url(#f2)"><path d="M455,269.5 L490.2,279.5 L504.2,284.5" fill="none" stroke="rgb(48,48,48)" stroke-width="2.6" stroke-linecap="round" stroke-opacity="0.75"/><path d="M455,269.5 Q456,298 462,315" fill="none" stroke="rgb(48,48,48)" stroke-width="2.2" stroke-linecap="round" stroke-opacity="0.6"/></g>
<g filter="url(#f2_5)"><path d="M459,280.5 L488.2,283.5 L490.2,301.5 L465,313 Z" fill="rgb(86,86,86)" fill-opacity="0.8"/></g>
<g filter="url(#f1_5)"><ellipse cx="506.2" cy="301.5" rx="12" ry="12" fill="rgb(62,62,62)"/></g>
<g filter="url(#f1)"><ellipse cx="506.2" cy="301.5" rx="12" ry="11.5" fill="none" stroke="rgb(96,96,96)" stroke-width="1.7"/></g>
<g filter="url(#f1_5)"><ellipse cx="506.2" cy="303.0" rx="8" ry="5" fill="rgb(50,50,50)"/></g>
<g filter="url(#f1)"><path d="M500.2,298.5 L511.2,297.5" fill="none" stroke="rgb(97,97,97)" stroke-width="1.2" stroke-linecap="round" stroke-opacity="0.7"/></g>
<g filter="url(#f1_5)"><ellipse cx="470" cy="318" rx="6" ry="3.2" fill="rgb(42,42,42)" transform="rotate(-12 470 318)"/><ellipse cx="463" cy="317" rx="4" ry="2.5" fill="rgb(57,57,57)" fill-opacity="0.8"/><path d="M446,327.8 L466,324 L476,323" fill="none" stroke="rgb(97,97,97)" stroke-width="1.8" stroke-linecap="round" stroke-opacity="0.8"/></g>
<g filter="url(#f2_5)"><ellipse cx="446" cy="331" rx="8" ry="4" fill="rgb(24,24,24)" fill-opacity="0.9"/></g>
<g filter="url(#f1)"><ellipse cx="468" cy="328.8" rx="1.8" ry="1.8" fill="rgb(170,170,170)" fill-opacity="0.7"/></g>
<g filter="url(#f2_5)"><ellipse cx="484" cy="330.8" rx="14" ry="6" fill="rgb(94,94,94)" fill-opacity="0.8"/><ellipse cx="460" cy="326.8" rx="14" ry="5" fill="rgb(88,88,88)" fill-opacity="0.7"/></g>
<g filter="url(#f1)"><path d="M428.8,243.2L429.0,261.2" fill="none" stroke="rgb(240,240,240)" stroke-width="4.6" stroke-linecap="round"/><path d="M429.0,261.2L429.2,273.2" fill="none" stroke="rgb(225,225,225)" stroke-width="4.6" stroke-linecap="round"/><path d="M429.2,273.2L429.6,281.2" fill="none" stroke="rgb(175,175,175)" stroke-width="4.6" stroke-linecap="round"/><path d="M429.6,281.2L429.8,287.2" fill="none" stroke="rgb(115,115,115)" stroke-width="4.6" stroke-linecap="round"/></g>
<g filter="url(#f1_5)"><path d="M429.8,287.2 L430.3,334.8" fill="none" stroke="rgb(84,84,84)" stroke-width="1.3" stroke-linecap="round" stroke-opacity="0.7"/></g>
<g filter="url(#f1)"><path d="M515.0,243.2L516.5,257.2" fill="none" stroke="rgb(235,235,235)" stroke-width="5.4" stroke-linecap="round"/><path d="M516.5,257.2L518.0,269.2" fill="none" stroke="rgb(215,215,215)" stroke-width="5.4" stroke-linecap="round"/><path d="M518.0,269.2L520.0,279.2" fill="none" stroke="rgb(140,140,140)" stroke-width="5.4" stroke-linecap="round"/></g>
<g filter="url(#f1_5)"><path d="M520.0,279.2 L523.5,303.2" fill="none" stroke="rgb(82,82,82)" stroke-width="1.3" stroke-linecap="round" stroke-opacity="0.6"/></g>
<g filter="url(#f0_6)"><ellipse cx="432.3" cy="304.7" rx="0.9" ry="1.3" fill="rgb(112,112,112)"/><ellipse cx="432.3" cy="313.2" rx="0.9" ry="1.5" fill="rgb(122,122,122)"/></g>
<rect x="413.4" y="245.2" width="125.4" height="89.6" filter="url(#noise)" opacity="0.2" style="mix-blend-mode:overlay"/>
</g>
<clipPath id="c15"><rect x="542.8" y="245.2" width="120.9" height="90.5"/></clipPath>
<g clip-path="url(#c15)">
<rect x="542.8" y="245.2" width="120.9" height="90.5" fill="rgb(9,9,9)"/>
<g filter="url(#f2_5)"><path d="M555,338.7 L555,290 Q557,266 572,259 Q600,252 628,256 Q644,260 648,283 L653,338.7 Z" fill="rgb(60,60,60)"/></g>
<g filter="url(#f4)"><ellipse cx="583" cy="278" rx="16" ry="10" fill="rgb(52,52,52)" fill-opacity="0.8"/></g>
<g filter="url(#f2_5)"><ellipse cx="606" cy="291" rx="12" ry="7" fill="rgb(102,102,102)" fill-opacity="0.9" transform="rotate(28 606 291)"/><ellipse cx="621" cy="300" rx="10" ry="4.5" fill="rgb(90,90,90)" fill-opacity="0.8" transform="rotate(20 621 300)"/><path d="M568,300 Q578,287 590,291" fill="none" stroke="rgb(28,28,28)" stroke-width="3.5" stroke-linecap="round" stroke-opacity="0.9"/><path d="M592,300 Q597,312 594,327" fill="none" stroke="rgb(44,44,44)" stroke-width="3" stroke-linecap="round" stroke-opacity="0.7"/></g>
<g filter="url(#f1_5)"><path d="M600,272 L602,284" fill="none" stroke="rgb(46,46,46)" stroke-width="2.5" stroke-linecap="round" stroke-opacity="0.7"/></g>
<g filter="url(#f4)"><ellipse cx="575" cy="318" rx="16" ry="13" fill="rgb(70,70,70)" fill-opacity="0.8"/></g>
<g filter="url(#f1_5)"><ellipse cx="632.5" cy="316" rx="14.5" ry="13" fill="rgb(50,50,50)"/></g>
<g filter="url(#f1)"><ellipse cx="632.5" cy="316" rx="14.5" ry="13" fill="none" stroke="rgb(98,98,98)" stroke-width="1.8"/></g>
<g filter="url(#f2_5)"><ellipse cx="630" cy="313" rx="9" ry="7" fill="rgb(40,40,40)"/></g>
<g filter="url(#f1_5)"><ellipse cx="610" cy="326" rx="4" ry="3" fill="rgb(20,20,20)"/><path d="M645,290 L650,305" fill="none" stroke="rgb(38,38,38)" stroke-width="3" stroke-linecap="round" stroke-opacity="0.8"/><path d="M552.5,243.2L553,270" fill="none" stroke="rgb(238,238,238)" stroke-width="4.8" stroke-linecap="round"/><path d="M553,270L554,284" fill="none" stroke="rgb(222,222,222)" stroke-width="4.8" stroke-linecap="round"/><path d="M554,284L555.5,296" fill="none" stroke="rgb(150,150,150)" stroke-width="4.8" stroke-linecap="round"/><path d="M556,296 L558,335.7" fill="none" stroke="rgb(90,90,90)" stroke-width="1.6" stroke-linecap="round" stroke-opacity="0.8"/><path d="M641,243.2L643.5,262" fill="none" stroke="rgb(232,232,232)" stroke-width="4.6" stroke-linecap="round"/><path d="M643.5,262L646,272" fill="none" stroke="rgb(210,210,210)" stroke-width="4.6" stroke-linecap="round"/><path d="M646,272L650,284" fill="none" stroke="rgb(130,130,130)" stroke-width="4.6" stroke-linecap="round"/><path d="M650,283 L654,312" fill="none" stroke="rgb(92,92,92)" stroke-width="1.5" stroke-linecap="round" stroke-opacity="0.7"/></g>
<g filter="url(#f0_6)"><ellipse cx="557.5" cy="307" rx="1" ry="1.2" fill="rgb(175,175,175)"/></g>
<rect x="542.8" y="245.2" width="120.9" height="90.5" filter="url(#noise)" opacity="0.2" style="mix-blend-mode:overlay"/>
</g>
<circle cx="603.9" cy="262.2" r="12" fill="none" stroke="#ececec" stroke-width="1.1" stroke-dasharray="1.3,1.0"/>
<clipPath id="c21"><rect x="34" y="339.7" width="117.7" height="88.9"/></clipPath>
<g clip-path="url(#c21)">
<rect x="34" y="339.7" width="117.7" height="88.9" fill="rgb(28,28,28)"/>
<g filter="url(#f2_5)"><path d="M47,431.6 L47,370 Q48,350 60,343 Q85,339 120,340 L134,341 Q142,360 143,390 L144,431.6 Z" fill="rgb(75,75,75)"/></g>
<g filter="url(#f4)"><ellipse cx="68" cy="385" rx="16" ry="28" fill="rgb(81,81,81)" fill-opacity="0.8"/></g>
<g filter="url(#f1_5)"><path d="M49,337.7 L66,337.7 L62,346 L51,358 Z" fill="rgb(30,30,30)"/><ellipse cx="121" cy="386" rx="19" ry="22" fill="rgb(62,62,62)"/></g>
<g filter="url(#f1)"><ellipse cx="121" cy="386" rx="19" ry="22" fill="none" stroke="rgb(86,86,86)" stroke-width="1.3" stroke-opacity="0.8"/></g>
<g filter="url(#f2_5)"><ellipse cx="118" cy="378" rx="9" ry="7" fill="rgb(70,70,70)" fill-opacity="0.7"/><ellipse cx="122" cy="398" rx="8" ry="6" fill="rgb(54,54,54)" fill-opacity="0.8"/></g>
<g filter="url(#f1_5)"><path d="M88,352 Q80,372 85,392 Q87,402 88,408" fill="none" stroke="rgb(52,52,52)" stroke-width="2.2" stroke-linecap="round" stroke-opacity="0.9"/></g>
<g filter="url(#f1)"><path d="M97,372 L100,384" fill="none" stroke="rgb(135,135,135)" stroke-width="1.2" stroke-linecap="round" stroke-opacity="0.7"/></g>
<g filter="url(#f1_5)"><ellipse cx="74" cy="416" rx="9" ry="4" fill="rgb(32,32,32)" transform="rotate(-55 74 416)"/><ellipse cx="95" cy="414" rx="4.5" ry="5.5" fill="rgb(22,22,22)"/><ellipse cx="86" cy="410" rx="3" ry="4" fill="rgb(50,50,50)"/><path d="M84,424 Q95,420 108,425" fill="none" stroke="rgb(130,130,130)" stroke-width="2" stroke-linecap="round" stroke-opacity="0.7"/><path d="M45.5,337.7L46,352" fill="none" stroke="rgb(232,232,232)" stroke-width="3.8" stroke-linecap="round"/><path d="M46,352L46.6,360" fill="none" stroke="rgb(215,215,215)" stroke-width="3.8" stroke-linecap="round"/><path d="M46.6,360L47.2,367" fill="none" stroke="rgb(140,140,140)" stroke-width="3.8" stroke-linecap="round"/><path d="M131.5,337.7L133.5,346" fill="none" stroke="rgb(215,215,215)" stroke-width="3.3" stroke-linecap="round"/><path d="M133.5,346L136,353" fill="none" stroke="rgb(160,160,160)" stroke-width="3.3" stroke-linecap="round"/></g>
<g filter="url(#f1)"><path d="M136,352 Q142,370 143,395" fill="none" stroke="rgb(105,105,105)" stroke-width="1.3" stroke-linecap="round" stroke-opacity="0.8"/></g>
<g filter="url(#f0_6)"><ellipse cx="48.4" cy="388.5" rx="1.1" ry="0.8" fill="rgb(150,150,150)"/></g>
<rect x="34" y="339.7" width="117.7" height="88.9" filter="url(#noise)" opacity="0.2" style="mix-blend-mode:overlay"/>
</g>
<clipPath id="c22"><rect x="155.5" y="339.9" width="126.6" height="89.1"/></clipPath>
<g clip-path="url(#c22)">
<rect x="155.5" y="339.9" width="126.6" height="89.1" fill="rgb(9,9,9)"/>
<g filter="url(#f2_5)"><path d="M169.5,432 L169.5,375.9 Q170.5,351.9 189.5,343.9 Q222.0,338.9 252.5,342.9 Q272.5,349.9 274.5,381.9 L275.5,432 Z" fill="rgb(89,89,89)"/></g>
<g filter="url(#f4)"><ellipse cx="214.0" cy="365.9" rx="40" ry="9" fill="rgb(77,77,77)" fill-opacity="0.7"/><ellipse cx="191.5" cy="415" rx="20" ry="16" fill="rgb(111,111,111)" fill-opacity="0.8"/><ellipse cx="212.0" cy="409" rx="38" ry="18" fill="rgb(103,103,103)" fill-opacity="0.7"/></g>
<g filter="url(#f1_5)"><path d="M208.0,350.9 L236.0,349.9" fill="none" stroke="rgb(134,134,134)" stroke-width="3.6" stroke-linecap="round" stroke-opacity="0.75"/></g>
<g filter="url(#f1)"><path d="M219.0,346.9 L231.0,346.4" fill="none" stroke="rgb(149,149,149)" stroke-width="1.3" stroke-linecap="round" stroke-opacity="0.7"/></g>
<g filter="url(#f1_5)"><path d="M177.5,361.9 L185.5,357.9" fill="none" stroke="rgb(124,124,124)" stroke-width="1.5" stroke-linecap="round" stroke-opacity="0.6"/></g>
<g filter="url(#f2)"><path d="M224.2,376.2 L246.2,379.2 L239.2,391.7 L232.2,386.7 Z" fill="rgb(127,127,127)" fill-opacity="0.85"/></g>
<g filter="url(#f1_5)"><ellipse cx="254.2" cy="395.2" rx="16.8" ry="22.8" fill="rgb(119,119,119)" fill-opacity="0.9"/></g>
<g filter="url(#f1)"><path d="M256.7,372.7 Q267.2,375.2 270.2,384.2" fill="none" stroke="rgb(174,174,174)" stroke-width="1.6" stroke-linecap="round" stroke-opacity="0.8"/><path d="M250.7,416.7 Q265.2,416.2 269.2,407.2" fill="none" stroke="rgb(179,179,179)" stroke-width="1.8" stroke-linecap="round" stroke-opacity="0.85"/><ellipse cx="254.7" cy="394.7" rx="14.5" ry="20.5" fill="rgb(44,44,44)"/></g>
<g filter="url(#f1_5)"><ellipse cx="254.7" cy="394.7" rx="11.5" ry="17.5" fill="rgb(36,36,36)"/><path d="M239.2,379.2 Q226.2,378.2 216.2,369.2" fill="none" stroke="rgb(127,127,127)" stroke-width="1.8" stroke-linecap="round" stroke-opacity="0.8"/><path d="M218.2,371.2 Q228.2,394.7 236.2,411.2 Q244.2,418.2 254.7,419.2" fill="none" stroke="rgb(129,129,129)" stroke-width="1.8" stroke-linecap="round" stroke-opacity="0.8"/><path d="M210.2,402.7 Q224.2,404.7 234.2,415.2" fill="none" stroke="rgb(119,119,119)" stroke-width="1.5" stroke-linecap="round" stroke-opacity="0.7"/></g>
<g filter="url(#f2_5)"><ellipse cx="215.2" cy="389.7" rx="9" ry="10" fill="rgb(75,75,75)" fill-opacity="0.7"/></g>
<g filter="url(#f1_5)"><ellipse cx="203.9" cy="415.3" rx="13" ry="5.6" fill="none" stroke="rgb(125,125,125)" stroke-width="1.4" stroke-opacity="0.65" transform="rotate(-31 203.9 415.3)"/></g>
<g filter="url(#f1)"><ellipse cx="203.9" cy="415.3" rx="12" ry="4.7" fill="rgb(13,13,13)" transform="rotate(-31 203.9 415.3)"/></g>
<g filter="url(#f1_5)"><ellipse cx="186" cy="430" rx="9" ry="3.5" fill="rgb(22,22,22)" transform="rotate(-10 186 430)"/></g>
<g filter="url(#f1)"><path d="M168.5,339.9 L169.5,355.9" fill="none" stroke="rgb(70,70,70)" stroke-width="1.5" stroke-linecap="round" stroke-opacity="0.7"/><path d="M266.1,339.9 L269.1,353.9" fill="none" stroke="rgb(60,60,60)" stroke-width="1.5" stroke-linecap="round" stroke-opacity="0.7"/></g>
<rect x="155.5" y="339.9" width="126.6" height="89.1" filter="url(#noise)" opacity="0.2" style="mix-blend-mode:overlay"/>
</g>
<clipPath id="c23"><rect x="286.2" y="339.7" width="123.4" height="89.8"/></clipPath>
<g clip-path="url(#c23)">
<rect x="286.2" y="339.7" width="123.4" height="89.8" fill="rgb(9,9,9)"/>
<g filter="url(#f2_5)"><path d="M295,432.5 L295,375.7 Q296,351.7 315,343.7 Q346.75,338.7 376.5,342.7 Q396.5,349.7 398.5,381.7 L399.5,432.5 Z" fill="rgb(97,97,97)"/></g>
<g filter="url(#f4)"><ellipse cx="338.75" cy="365.7" rx="40" ry="9" fill="rgb(85,85,85)" fill-opacity="0.7"/><ellipse cx="317" cy="415.5" rx="20" ry="16" fill="rgb(119,119,119)" fill-opacity="0.8"/><ellipse cx="336.75" cy="409.5" rx="38" ry="18" fill="rgb(111,111,111)" fill-opacity="0.7"/></g>
<g filter="url(#f1_5)"><path d="M332.75,350.7 L360.75,349.7" fill="none" stroke="rgb(142,142,142)" stroke-width="3.6" stroke-linecap="round" stroke-opacity="0.75"/></g>
<g filter="url(#f1)"><path d="M343.75,346.7 L355.75,346.2" fill="none" stroke="rgb(157,157,157)" stroke-width="1.3" stroke-linecap="round" stroke-opacity="0.7"/></g>
<g filter="url(#f1_5)"><path d="M303,361.7 L311,357.7" fill="none" stroke="rgb(132,132,132)" stroke-width="1.5" stroke-linecap="round" stroke-opacity="0.6"/></g>
<g filter="url(#f2)"><path d="M347.7,377 L369.7,380 L362.7,391 L355.7,386 Z" fill="rgb(135,135,135)" fill-opacity="0.85"/></g>
<g filter="url(#f1_5)"><ellipse cx="377.8" cy="394.5" rx="16.9" ry="21.3" fill="rgb(127,127,127)" fill-opacity="0.9"/></g>
<g filter="url(#f1)"><path d="M380.3,373.5 Q390.90000000000003,376 393.90000000000003,385" fill="none" stroke="rgb(182,182,182)" stroke-width="1.6" stroke-linecap="round" stroke-opacity="0.8"/><path d="M374.3,414.5 Q388.90000000000003,414 392.90000000000003,405" fill="none" stroke="rgb(187,187,187)" stroke-width="1.8" stroke-linecap="round" stroke-opacity="0.85"/><ellipse cx="378.3" cy="394" rx="14.6" ry="19" fill="rgb(44,44,44)"/></g>
<g filter="url(#f1_5)"><ellipse cx="378.3" cy="394" rx="11.6" ry="16" fill="rgb(36,36,36)"/><path d="M362.7,380 Q349.7,379 339.7,370" fill="none" stroke="rgb(135,135,135)" stroke-width="1.8" stroke-linecap="round" stroke-opacity="0.8"/><path d="M341.7,372 Q351.7,394 359.7,409 Q367.7,416 378.3,417" fill="none" stroke="rgb(137,137,137)" stroke-width="1.8" stroke-linecap="round" stroke-opacity="0.8"/><path d="M333.7,402 Q347.7,404 357.7,413" fill="none" stroke="rgb(127,127,127)" stroke-width="1.5" stroke-linecap="round" stroke-opacity="0.7"/></g>
<g filter="url(#f2_5)"><ellipse cx="338.7" cy="389" rx="9" ry="10" fill="rgb(83,83,83)" fill-opacity="0.7"/></g>
<g filter="url(#f1_5)"><ellipse cx="333.5" cy="413.6" rx="13" ry="5.6" fill="none" stroke="rgb(133,133,133)" stroke-width="1.4" stroke-opacity="0.65" transform="rotate(-31 333.5 413.6)"/></g>
<g filter="url(#f1)"><ellipse cx="333.5" cy="413.6" rx="12" ry="4.7" fill="rgb(13,13,13)" transform="rotate(-31 333.5 413.6)"/></g>
<g filter="url(#f1_5)"><ellipse cx="312" cy="429" rx="9" ry="3.5" fill="rgb(22,22,22)" transform="rotate(-10 312 429)"/></g>
<g filter="url(#f1)"><path d="M299.2,339.7 L300.2,355.7" fill="none" stroke="rgb(70,70,70)" stroke-width="1.5" stroke-linecap="round" stroke-opacity="0.7"/><path d="M393.6,339.7 L396.6,353.7" fill="none" stroke="rgb(60,60,60)" stroke-width="1.5" stroke-linecap="round" stroke-opacity="0.7"/></g>
<rect x="286.2" y="339.7" width="123.4" height="89.8" filter="url(#noise)" opacity="0.2" style="mix-blend-mode:overlay"/>
</g>
<clipPath id="c24"><rect x="413.4" y="340.3" width="125.6" height="89.0"/></clipPath>
<g clip-path="url(#c24)">
<rect x="413.4" y="340.3" width="125.6" height="89.0" fill="rgb(9,9,9)"/>
<g filter="url(#f2_5)"><path d="M421,432.3 L421,376.3 Q422,352.3 441,344.3 Q475.25,339.3 507.5,343.3 Q527.5,350.3 529.5,382.3 L530.5,432.3 Z" fill="rgb(93,93,93)"/></g>
<g filter="url(#f4)"><ellipse cx="467.25" cy="366.3" rx="40" ry="9" fill="rgb(81,81,81)" fill-opacity="0.7"/><ellipse cx="443" cy="415.3" rx="20" ry="16" fill="rgb(115,115,115)" fill-opacity="0.8"/><ellipse cx="465.25" cy="409.3" rx="38" ry="18" fill="rgb(107,107,107)" fill-opacity="0.7"/></g>
<g filter="url(#f1_5)"><path d="M461.25,351.3 L489.25,350.3" fill="none" stroke="rgb(138,138,138)" stroke-width="3.6" stroke-linecap="round" stroke-opacity="0.75"/></g>
<g filter="url(#f1)"><path d="M472.25,347.3 L484.25,346.8" fill="none" stroke="rgb(153,153,153)" stroke-width="1.3" stroke-linecap="round" stroke-opacity="0.7"/></g>
<g filter="url(#f1_5)"><path d="M429,362.3 L437,358.3" fill="none" stroke="rgb(128,128,128)" stroke-width="1.5" stroke-linecap="round" stroke-opacity="0.6"/></g>
<g filter="url(#f2)"><path d="M475.2,377.3 L497.2,380.3 L490.2,390.5 L483.2,385.5 Z" fill="rgb(131,131,131)" fill-opacity="0.85"/></g>
<g filter="url(#f1_5)"><ellipse cx="505.7" cy="394.0" rx="17.3" ry="20.5" fill="rgb(123,123,123)" fill-opacity="0.9"/></g>
<g filter="url(#f1)"><path d="M508.2,373.8 Q519.2,376.3 522.2,385.3" fill="none" stroke="rgb(178,178,178)" stroke-width="1.6" stroke-linecap="round" stroke-opacity="0.8"/><path d="M502.2,413.2 Q517.2,412.7 521.2,403.7" fill="none" stroke="rgb(183,183,183)" stroke-width="1.8" stroke-linecap="round" stroke-opacity="0.85"/><ellipse cx="506.2" cy="393.5" rx="15" ry="18.2" fill="rgb(44,44,44)"/></g>
<g filter="url(#f1_5)"><ellipse cx="506.2" cy="393.5" rx="12" ry="15.2" fill="rgb(36,36,36)"/><path d="M490.2,380.3 Q477.2,379.3 467.2,370.3" fill="none" stroke="rgb(131,131,131)" stroke-width="1.8" stroke-linecap="round" stroke-opacity="0.8"/><path d="M469.2,372.3 Q479.2,393.5 487.2,407.7 Q495.2,414.7 506.2,415.7" fill="none" stroke="rgb(133,133,133)" stroke-width="1.8" stroke-linecap="round" stroke-opacity="0.8"/><path d="M461.2,401.5 Q475.2,403.5 485.2,411.7" fill="none" stroke="rgb(123,123,123)" stroke-width="1.5" stroke-linecap="round" stroke-opacity="0.7"/></g>
<g filter="url(#f2_5)"><ellipse cx="466.2" cy="388.5" rx="9" ry="10" fill="rgb(79,79,79)" fill-opacity="0.7"/></g>
<g filter="url(#f1_5)"><ellipse cx="459.6" cy="413.4" rx="13" ry="5.6" fill="none" stroke="rgb(129,129,129)" stroke-width="1.4" stroke-opacity="0.65" transform="rotate(-31 459.6 413.4)"/></g>
<g filter="url(#f1)"><ellipse cx="459.6" cy="413.4" rx="12" ry="4.7" fill="rgb(13,13,13)" transform="rotate(-31 459.6 413.4)"/></g>
<g filter="url(#f2_5)"><ellipse cx="434.8" cy="417.5" rx="7" ry="11" fill="rgb(143,143,143)" fill-opacity="0.9"/></g>
<g filter="url(#f1)"><path d="M426.4,340.3 L427.4,356.3" fill="none" stroke="rgb(70,70,70)" stroke-width="1.5" stroke-linecap="round" stroke-opacity="0.7"/><path d="M523,340.3 L526,354.3" fill="none" stroke="rgb(60,60,60)" stroke-width="1.5" stroke-linecap="round" stroke-opacity="0.7"/></g>
<rect x="413.4" y="340.3" width="125.6" height="89.0" filter="url(#noise)" opacity="0.2" style="mix-blend-mode:overlay"/>
</g>
<clipPath id="c25"><rect x="543.4" y="340.4" width="119.8" height="89.2"/></clipPath>
<g clip-path="url(#c25)">
<rect x="543.4" y="340.4" width="119.8" height="89.2" fill="rgb(8,8,8)"/>
<g filter="url(#f2_5)"><path d="M560,432.6 L559,395 Q566,370 576,345 L590,338.4 L640,338.4 Q647,360 647,390 L646,432.6 Z" fill="rgb(68,68,68)"/></g>
<g filter="url(#f4)"><ellipse cx="615" cy="380" rx="22" ry="22" fill="rgb(84,84,84)" fill-opacity="0.8"/><ellipse cx="612" cy="350" rx="24" ry="8" fill="rgb(58,58,58)" fill-opacity="0.8"/></g>
<g filter="url(#f1_5)"><path d="M565,358.4 L571,362.4 L566,380.4 Z" fill="rgb(60,60,60)"/><ellipse cx="568" cy="409.3" rx="14" ry="14" fill="rgb(82,82,82)"/><path d="M599,406 L584,416" fill="none" stroke="rgb(20,20,20)" stroke-width="6" stroke-linecap="round"/><path d="M601,352 L602,372" fill="none" stroke="rgb(38,38,38)" stroke-width="3" stroke-linecap="round" stroke-opacity="0.9"/><path d="M596,367 L612,369" fill="none" stroke="rgb(42,42,42)" stroke-width="2" stroke-linecap="round" stroke-opacity="0.8"/><path d="M583,388 L594,386" fill="none" stroke="rgb(48,48,48)" stroke-width="2" stroke-linecap="round" stroke-opacity="0.8"/><path d="M622,388 Q630,392 634,398" fill="none" stroke="rgb(40,40,40)" stroke-width="2.5" stroke-linecap="round" stroke-opacity="0.8"/></g>
<g filter="url(#f1)"><path d="M610,383 Q618,388 622,392" fill="none" stroke="rgb(125,125,125)" stroke-width="1.8" stroke-linecap="round" stroke-opacity="0.7"/></g>
<g filter="url(#f1_5)"><ellipse cx="627" cy="419" rx="10" ry="5.5" fill="rgb(112,112,112)"/></g>
<g filter="url(#f1)"><path d="M620,419 Q627,415 635,419" fill="none" stroke="rgb(165,165,165)" stroke-width="1.4" stroke-linecap="round" stroke-opacity="0.8"/></g>
<g filter="url(#f2_5)"><ellipse cx="630" cy="410" rx="9" ry="6" fill="rgb(95,95,95)" fill-opacity="0.7"/></g>
<rect x="543.4" y="340.4" width="119.8" height="89.2" filter="url(#noise)" opacity="0.2" style="mix-blend-mode:overlay"/>
</g>
<circle cx="568" cy="409.3" r="14" fill="none" stroke="#ececec" stroke-width="1.1" stroke-dasharray="1.3,1.0"/>
<clipPath id="c31"><rect x="34" y="433" width="117.7" height="87.9"/></clipPath>
<g clip-path="url(#c31)">
<rect x="34" y="433" width="117.7" height="87.9" fill="rgb(10,10,10)"/>
<g filter="url(#f2_5)"><path d="M49,523.9 L49,472 Q50,462 58,455 Q68,447 78,445 L128,438 Q140,440 141.5,470 L142.5,523.9 Z" fill="rgb(66,66,66)"/></g>
<g filter="url(#f2)"><path d="M47,431 L132,431 L130,436.5 L80,443 Q64,448 54,460 L50,466 Z" fill="rgb(17,17,17)"/></g>
<g filter="url(#f4)"><ellipse cx="70" cy="494" rx="18" ry="26" fill="rgb(86,86,86)" fill-opacity="0.85"/><ellipse cx="98" cy="508" rx="16" ry="10" fill="rgb(78,78,78)" fill-opacity="0.7"/><ellipse cx="100" cy="458" rx="16" ry="8" fill="rgb(60,60,60)" fill-opacity="0.7"/><ellipse cx="122" cy="482" rx="17" ry="30" fill="rgb(44,44,44)" fill-opacity="0.9"/><ellipse cx="116" cy="474" rx="13" ry="12" fill="rgb(40,40,40)" fill-opacity="0.8"/></g>
<g filter="url(#f1_5)"><path d="M97,478 Q104,482 112,480" fill="none" stroke="rgb(26,26,26)" stroke-width="2.5" stroke-linecap="round" stroke-opacity="0.9"/><path d="M92,455 L93,490" fill="none" stroke="rgb(50,50,50)" stroke-width="2" stroke-linecap="round" stroke-opacity="0.8"/><path d="M112,470 L128,474" fill="none" stroke="rgb(78,78,78)" stroke-width="1.5" stroke-linecap="round" stroke-opacity="0.6"/><path d="M116,490 Q118,505 124,515" fill="none" stroke="rgb(76,76,76)" stroke-width="1.5" stroke-linecap="round" stroke-opacity="0.6"/></g>
<g filter="url(#f1)"><path d="M46.5,433 L47.5,472" fill="none" stroke="rgb(78,78,78)" stroke-width="1.8" stroke-linecap="round" stroke-opacity="0.9"/><path d="M53.5,433 L55,462" fill="none" stroke="rgb(80,80,80)" stroke-width="1.8" stroke-linecap="round" stroke-opacity="0.9"/><path d="M131,433 L135,470" fill="none" stroke="rgb(70,70,70)" stroke-width="1.8" stroke-linecap="round" stroke-opacity="0.8"/></g>
<rect x="34" y="433" width="117.7" height="87.9" filter="url(#noise)" opacity="0.2" style="mix-blend-mode:overlay"/>
</g>
<clipPath id="c32"><rect x="155.5" y="433.3" width="126.6" height="87.3"/></clipPath>
<g clip-path="url(#c32)">
<rect x="155.5" y="433.3" width="126.6" height="87.3" fill="rgb(10,10,10)"/>
<g filter="url(#f2_5)"><path d="M161.8,523.6 L161.8,463.3 Q161.8,438.3 167.8,431.3 L266.3,431.3 Q274.3,443.3 274.3,473.3 L274.3,523.6 Z" fill="rgb(86,86,86)"/><path d="M164.8,433.3 L163.8,520.6" fill="none" stroke="rgb(44,44,44)" stroke-width="5" stroke-linecap="round" stroke-opacity="0.7"/><path d="M166.8,433.3 L166.8,475.3" fill="none" stroke="rgb(34,34,34)" stroke-width="8" stroke-linecap="round" stroke-opacity="0.75"/><path d="M271.3,443.3 L272.3,520.6" fill="none" stroke="rgb(56,56,56)" stroke-width="4" stroke-linecap="round" stroke-opacity="0.6"/></g>
<g filter="url(#f4)"><ellipse cx="193.8" cy="500.6" rx="22" ry="20" fill="rgb(112,112,112)" fill-opacity="0.85"/><ellipse cx="228" cy="498.6" rx="9" ry="18" fill="rgb(108,108,108)" fill-opacity="0.8"/><ellipse cx="249" cy="459.3" rx="20" ry="14" fill="rgb(102,102,102)" fill-opacity="0.8"/></g>
<g filter="url(#f2_5)"><path d="M238,478 Q259,482 262,508" fill="none" stroke="rgb(54,54,54)" stroke-width="13" stroke-linecap="round" stroke-opacity="0.85"/></g>
<g filter="url(#f2)"><path d="M211,434.3 L259,434.3" fill="none" stroke="rgb(40,40,40)" stroke-width="6" stroke-linecap="round" stroke-opacity="0.8"/></g>
<g filter="url(#f2_5)"><path d="M174,431.3 L219,431.3 L218,446 L205,451 L191,456 L177.5,464 Z" fill="rgb(22,22,22)"/></g>
<g filter="url(#f1_5)"><path d="M211,443.3 L211.5,522.6" fill="none" stroke="rgb(44,44,44)" stroke-width="4.8" stroke-linecap="round"/><ellipse cx="221.5" cy="460.3" rx="6" ry="8.5" fill="rgb(122,122,122)" fill-opacity="0.9"/><path d="M170.8,433.3 L171.8,463.3" fill="none" stroke="rgb(81,81,81)" stroke-width="1.5" stroke-linecap="round" stroke-opacity="0.6"/><path d="M262.3,433.3 L266.3,458.3" fill="none" stroke="rgb(51,51,51)" stroke-width="2" stroke-linecap="round" stroke-opacity="0.6"/></g>
<rect x="155.5" y="433.3" width="126.6" height="87.3" filter="url(#noise)" opacity="0.2" style="mix-blend-mode:overlay"/>
</g>
<clipPath id="c33"><rect x="286.2" y="433.1" width="123.4" height="88.0"/></clipPath>
<g clip-path="url(#c33)">
<rect x="286.2" y="433.1" width="123.4" height="88.0" fill="rgb(10,10,10)"/>
<g filter="url(#f2_5)"><path d="M292.4,524.1 L292.4,463.1 Q292.4,438.1 298.4,431.1 L392.8,431.1 Q400.8,443.1 400.8,473.1 L400.8,524.1 Z" fill="rgb(99,99,99)"/><path d="M295.4,433.1 L294.4,521.1" fill="none" stroke="rgb(57,57,57)" stroke-width="5" stroke-linecap="round" stroke-opacity="0.7"/><path d="M297.4,433.1 L297.4,475.1" fill="none" stroke="rgb(47,47,47)" stroke-width="8" stroke-linecap="round" stroke-opacity="0.75"/><path d="M397.8,443.1 L398.8,521.1" fill="none" stroke="rgb(69,69,69)" stroke-width="4" stroke-linecap="round" stroke-opacity="0.6"/></g>
<g filter="url(#f4)"><ellipse cx="324.4" cy="501.1" rx="22" ry="20" fill="rgb(125,125,125)" fill-opacity="0.85"/><ellipse cx="357" cy="499.1" rx="9" ry="18" fill="rgb(121,121,121)" fill-opacity="0.8"/><ellipse cx="378" cy="459.1" rx="20" ry="14" fill="rgb(115,115,115)" fill-opacity="0.8"/></g>
<g filter="url(#f2_5)"><path d="M354,467 Q376,478 383,508" fill="none" stroke="rgb(46,46,46)" stroke-width="14" stroke-linecap="round" stroke-opacity="0.85"/></g>
<g filter="url(#f2)"><path d="M340,434.1 L388,434.1" fill="none" stroke="rgb(40,40,40)" stroke-width="6" stroke-linecap="round" stroke-opacity="0.8"/></g>
<g filter="url(#f2_5)"><path d="M301,431.1 L346,431.1 L342,446 L325,451 L309,460 L303,450 Z" fill="rgb(22,22,22)"/></g>
<g filter="url(#f1_5)"><path d="M340,443.1 L340.5,523.1" fill="none" stroke="rgb(44,44,44)" stroke-width="6" stroke-linecap="round"/><ellipse cx="350.4" cy="455" rx="6" ry="8.5" fill="rgb(135,135,135)" fill-opacity="0.9"/><path d="M301.4,433.1 L302.4,463.1" fill="none" stroke="rgb(94,94,94)" stroke-width="1.5" stroke-linecap="round" stroke-opacity="0.6"/><path d="M388.8,433.1 L392.8,458.1" fill="none" stroke="rgb(64,64,64)" stroke-width="2" stroke-linecap="round" stroke-opacity="0.6"/></g>
<rect x="286.2" y="433.1" width="123.4" height="88.0" filter="url(#noise)" opacity="0.2" style="mix-blend-mode:overlay"/>
</g>
<clipPath id="c34"><rect x="413.6" y="433.4" width="125.8" height="87.9"/></clipPath>
<g clip-path="url(#c34)">
<rect x="413.6" y="433.4" width="125.8" height="87.9" fill="rgb(10,10,10)"/>
<g filter="url(#f2_5)"><path d="M424,524.3 L424,463.4 Q424,438.4 430,431.4 L526,431.4 Q534,443.4 534,473.4 L534,524.3 Z" fill="rgb(81,81,81)"/><path d="M427,433.4 L426,521.3" fill="none" stroke="rgb(39,39,39)" stroke-width="5" stroke-linecap="round" stroke-opacity="0.7"/><path d="M429,433.4 L429,475.4" fill="none" stroke="rgb(29,29,29)" stroke-width="8" stroke-linecap="round" stroke-opacity="0.75"/><path d="M531,443.4 L532,521.3" fill="none" stroke="rgb(51,51,51)" stroke-width="4" stroke-linecap="round" stroke-opacity="0.6"/></g>
<g filter="url(#f4)"><ellipse cx="456" cy="501.29999999999995" rx="22" ry="20" fill="rgb(107,107,107)" fill-opacity="0.85"/><ellipse cx="488.5" cy="499.29999999999995" rx="9" ry="18" fill="rgb(103,103,103)" fill-opacity="0.8"/><ellipse cx="509.5" cy="459.4" rx="20" ry="14" fill="rgb(97,97,97)" fill-opacity="0.8"/></g>
<g filter="url(#f2_5)"><path d="M486,463 Q508,476 515,508" fill="none" stroke="rgb(40,40,40)" stroke-width="13" stroke-linecap="round" stroke-opacity="0.85"/></g>
<g filter="url(#f2)"><path d="M471.5,434.4 L519.5,434.4" fill="none" stroke="rgb(40,40,40)" stroke-width="6" stroke-linecap="round" stroke-opacity="0.8"/></g>
<g filter="url(#f2_5)"><path d="M436,431.4 L478,431.4 L474,446 L458,450 L440,458 Z" fill="rgb(22,22,22)"/></g>
<g filter="url(#f1_5)"><path d="M471.5,443.4 L472.0,523.3" fill="none" stroke="rgb(44,44,44)" stroke-width="6" stroke-linecap="round"/><ellipse cx="485" cy="456" rx="6" ry="8.5" fill="rgb(117,117,117)" fill-opacity="0.9"/><path d="M433,433.4 L434,463.4" fill="none" stroke="rgb(76,76,76)" stroke-width="1.5" stroke-linecap="round" stroke-opacity="0.6"/><path d="M522,433.4 L526,458.4" fill="none" stroke="rgb(46,46,46)" stroke-width="2" stroke-linecap="round" stroke-opacity="0.6"/></g>
<rect x="413.6" y="433.4" width="125.8" height="87.9" filter="url(#noise)" opacity="0.2" style="mix-blend-mode:overlay"/>
</g>
<clipPath id="c35"><rect x="543.4" y="433.3" width="119.0" height="88.2"/></clipPath>
<g clip-path="url(#c35)">
<rect x="543.4" y="433.3" width="119.0" height="88.2" fill="rgb(9,9,9)"/>
<g filter="url(#f2_5)"><path d="M553,524.5 L553,475 Q556,455 566,450 Q580,440 596,438 L640,436 Q650,450 650,480 L650,524.5 Z" fill="rgb(72,72,72)"/><path d="M552,431.3 L598,431.3 L592,440 Q572,446 562,462 Z" fill="rgb(16,16,16)"/><path d="M622,431.3 L652,431.3 L650,446 L630,438 Z" fill="rgb(30,30,30)"/></g>
<g filter="url(#f4)"><ellipse cx="578" cy="485" rx="20" ry="26" fill="rgb(80,80,80)" fill-opacity="0.8"/></g>
<g filter="url(#f1_5)"><ellipse cx="608.2" cy="449" rx="14" ry="14" fill="rgb(86,86,86)"/></g>
<g filter="url(#f2_5)"><ellipse cx="611" cy="494" rx="9" ry="22" fill="rgb(94,94,94)" fill-opacity="0.9"/></g>
<g filter="url(#f1_5)"><path d="M596,466 Q610,474 628,478" fill="none" stroke="rgb(50,50,50)" stroke-width="2.5" stroke-linecap="round" stroke-opacity="0.8"/><path d="M583,486 L594,484" fill="none" stroke="rgb(58,58,58)" stroke-width="2" stroke-linecap="round" stroke-opacity="0.7"/><ellipse cx="634" cy="500" rx="11" ry="14.5" fill="rgb(110,110,110)" transform="rotate(8 634 500)"/><ellipse cx="634.5" cy="499" rx="7" ry="10.5" fill="rgb(80,80,80)" transform="rotate(8 634.5 499)"/></g>
<g filter="url(#f1)"><ellipse cx="630" cy="510" rx="4" ry="2" fill="rgb(150,150,150)" fill-opacity="0.8"/></g>
<g filter="url(#f1_5)"><ellipse cx="604.5" cy="517.5" rx="4" ry="3.5" fill="rgb(14,14,14)"/></g>
<g filter="url(#f1)"><path d="M561,433.3 L562,468" fill="none" stroke="rgb(60,60,60)" stroke-width="1.5" stroke-linecap="round" stroke-opacity="0.7"/></g>
<rect x="543.4" y="433.3" width="119.0" height="88.2" filter="url(#noise)" opacity="0.2" style="mix-blend-mode:overlay"/>
</g>
<circle cx="608.2" cy="449" r="14.6" fill="none" stroke="#ececec" stroke-width="1.1" stroke-dasharray="1.3,1.0"/>
</g>
<g id="pe">
<text x="-0.2" y="548.6" font-size="22" text-anchor="start" font-weight="bold" fill="#111" >e</text>
<rect x="48.5" y="551" width="270.0" height="169" fill="none" stroke="#1a1a1a" stroke-width="1.5"/>
<line x1="44.5" y1="720.0" x2="48.5" y2="720.0" stroke="#1a1a1a" stroke-width="1.2"/>
<text x="42.0" y="723.3" font-size="9.3" text-anchor="end" font-weight="normal" fill="#222" >0</text>
<line x1="44.5" y1="663.6666666666666" x2="48.5" y2="663.6666666666666" stroke="#1a1a1a" stroke-width="1.2"/>
<text x="42.0" y="666.9666666666666" font-size="9.3" text-anchor="end" font-weight="normal" fill="#222" >1</text>
<line x1="44.5" y1="607.3333333333334" x2="48.5" y2="607.3333333333334" stroke="#1a1a1a" stroke-width="1.2"/>
<text x="42.0" y="610.6333333333333" font-size="9.3" text-anchor="end" font-weight="normal" fill="#222" >2</text>
<line x1="44.5" y1="551.0" x2="48.5" y2="551.0" stroke="#1a1a1a" stroke-width="1.2"/>
<text x="42.0" y="554.3" font-size="9.3" text-anchor="end" font-weight="normal" fill="#222" >3</text>
<line x1="83" y1="720" x2="83" y2="724" stroke="#1a1a1a" stroke-width="1.2"/>
<text x="83" y="736" font-size="9.5" text-anchor="middle" font-weight="normal" fill="#222" >Pre</text>
<line x1="133" y1="720" x2="133" y2="724" stroke="#1a1a1a" stroke-width="1.2"/>
<text x="133" y="736" font-size="9.5" text-anchor="middle" font-weight="normal" fill="#222" >5min</text>
<line x1="184" y1="720" x2="184" y2="724" stroke="#1a1a1a" stroke-width="1.2"/>
<text x="184" y="736" font-size="9.5" text-anchor="middle" font-weight="normal" fill="#222" >30min</text>
<line x1="234" y1="720" x2="234" y2="724" stroke="#1a1a1a" stroke-width="1.2"/>
<text x="234" y="736" font-size="9.5" text-anchor="middle" font-weight="normal" fill="#222" >60min</text>
<line x1="285" y1="720" x2="285" y2="724" stroke="#1a1a1a" stroke-width="1.2"/>
<text x="285" y="736" font-size="9.5" text-anchor="middle" font-weight="normal" fill="#222" >180min</text>
<text transform="translate(24,630) rotate(-90)" font-size="9" text-anchor="middle" fill="#222">MR Signal T/N ratio</text>
<path d="M83,644.0V649.6M80,644.0h6M80,649.6h6" stroke="#2db13c" stroke-width="0.8" fill="none"/>
<path d="M133,631.6V639.4M130,631.6h6M130,639.4h6" stroke="#2db13c" stroke-width="0.8" fill="none"/>
<path d="M184,637.8V644.5M181,637.8h6M181,644.5h6" stroke="#2db13c" stroke-width="0.8" fill="none"/>
<path d="M234,620.9V634.4M231,620.9h6M231,634.4h6" stroke="#2db13c" stroke-width="0.8" fill="none"/>
<path d="M285,624.8V631.6M282,624.8h6M282,631.6h6" stroke="#2db13c" stroke-width="0.8" fill="none"/>
<polyline points="83,646.8 133,635.5 184,641.1 234,627.6 285,628.2" fill="none" stroke="#2db13c" stroke-width="1.5"/>
<path d="M83,642.8l3.8,6.4h-7.6z" fill="#2db13c"/>
<path d="M133,631.5l3.8,6.4h-7.6z" fill="#2db13c"/>
<path d="M184,637.1l3.8,6.4h-7.6z" fill="#2db13c"/>
<path d="M234,623.6l3.8,6.4h-7.6z" fill="#2db13c"/>
<path d="M285,624.2l3.8,6.4h-7.6z" fill="#2db13c"/>
<path d="M83,654.7V658.0M80,654.7h6M80,658.0h6" stroke="#1c47a3" stroke-width="0.8" fill="none"/>
<path d="M133,642.3V645.6M130,642.3h6M130,645.6h6" stroke="#1c47a3" stroke-width="0.8" fill="none"/>
<path d="M184,650.1V660.3M181,650.1h6M181,660.3h6" stroke="#1c47a3" stroke-width="0.8" fill="none"/>
<path d="M234,651.3V654.7M231,651.3h6M231,654.7h6" stroke="#1c47a3" stroke-width="0.8" fill="none"/>
<path d="M285,658.6V660.9M282,658.6h6M282,660.9h6" stroke="#1c47a3" stroke-width="0.8" fill="none"/>
<polyline points="83,656.3 133,644.0 184,655.2 234,653.0 285,659.7" fill="none" stroke="#1c47a3" stroke-width="1.5"/>
<circle cx="83" cy="656.3" r="3.4" fill="#1c47a3"/>
<circle cx="133" cy="644.0" r="3.4" fill="#1c47a3"/>
<circle cx="184" cy="655.2" r="3.4" fill="#1c47a3"/>
<circle cx="234" cy="653.0" r="3.4" fill="#1c47a3"/>
<circle cx="285" cy="659.7" r="3.4" fill="#1c47a3"/>
<path d="M83,649.6V654.1M80,649.6h6M80,654.1h6" stroke="#e81824" stroke-width="0.8" fill="none"/>
<path d="M133,620.9V628.7M130,620.9h6M130,628.7h6" stroke="#e81824" stroke-width="0.8" fill="none"/>
<path d="M184,613.5V624.8M181,613.5h6M181,624.8h6" stroke="#e81824" stroke-width="0.8" fill="none"/>
<path d="M234,594.4V616.9M231,594.4h6M231,616.9h6" stroke="#e81824" stroke-width="0.8" fill="none"/>
<path d="M285,609.6V615.2M282,609.6h6M282,615.2h6" stroke="#e81824" stroke-width="0.8" fill="none"/>
<polyline points="83,651.8 133,624.8 184,619.2 234,605.6 285,612.4" fill="none" stroke="#e81824" stroke-width="1.5"/>
<rect x="79.7" y="648.5" width="6.6" height="6.6" fill="#e81824"/>
<rect x="129.7" y="621.5" width="6.6" height="6.6" fill="#e81824"/>
<rect x="180.7" y="615.9" width="6.6" height="6.6" fill="#e81824"/>
<rect x="230.7" y="602.3" width="6.6" height="6.6" fill="#e81824"/>
<rect x="281.7" y="609.1" width="6.6" height="6.6" fill="#e81824"/>
<text x="285" y="604.6" font-size="9.5" text-anchor="middle" font-weight="bold" fill="#222" >***</text>
<line x1="57" y1="564" x2="73" y2="564" stroke="#1c47a3" stroke-width="1.3"/>
<circle cx="65" cy="564" r="2.8" fill="#1c47a3"/>
<text x="75.5" y="567.3" font-size="9.6" text-anchor="start" font-weight="normal" fill="#222" >Gd-DOTA</text>
<line x1="57" y1="580" x2="73" y2="580" stroke="#e81824" stroke-width="1.3"/>
<rect x="62.2" y="577.2" width="5.6" height="5.6" fill="#e81824"/>
<text x="75.5" y="583.3" font-size="9.6" text-anchor="start" font-weight="normal" fill="#222" >LA-CMGL</text>
<line x1="57" y1="596" x2="73" y2="596" stroke="#2db13c" stroke-width="1.3"/>
<path d="M65,592.7l3.2,5.6h-6.4z" fill="#2db13c"/>
<text x="75.5" y="599.3" font-size="9.6" text-anchor="start" font-weight="normal" fill="#222" >CMGL</text>
</g>
<g id="pf">
<text x="337.1" y="548" font-size="22" text-anchor="start" font-weight="bold" fill="#111" >f</text>
<rect x="406" y="551" width="256" height="169.5" fill="none" stroke="#1a1a1a" stroke-width="1.5"/>
<line x1="402" y1="720.5" x2="406" y2="720.5" stroke="#1a1a1a" stroke-width="1.2"/>
<text x="399.5" y="723.8" font-size="9.2" text-anchor="end" font-weight="normal" fill="#222" >0</text>
<line x1="402" y1="664.0" x2="406" y2="664.0" stroke="#1a1a1a" stroke-width="1.2"/>
<text x="399.5" y="667.3" font-size="9.2" text-anchor="end" font-weight="normal" fill="#222" >200</text>
<line x1="402" y1="607.5" x2="406" y2="607.5" stroke="#1a1a1a" stroke-width="1.2"/>
<text x="399.5" y="610.8" font-size="9.2" text-anchor="end" font-weight="normal" fill="#222" >400</text>
<line x1="402" y1="551.0" x2="406" y2="551.0" stroke="#1a1a1a" stroke-width="1.2"/>
<text x="399.5" y="554.3" font-size="9.2" text-anchor="end" font-weight="normal" fill="#222" >600</text>
<line x1="432" y1="720.5" x2="432" y2="724.5" stroke="#1a1a1a" stroke-width="1.2"/>
<text x="432" y="736.0" font-size="9.3" text-anchor="middle" font-weight="normal" fill="#222" >Heart</text>
<path d="M413.8,647.6V645.4M412.3,645.4h3" stroke="#1c47a3" stroke-width="0.8" fill="none"/>
<rect x="410.9" y="647.6" width="5.8" height="72.2" fill="#1c47a3"/>
<path d="M422.9,651.9V649.9M421.4,649.9h3" stroke="#e81824" stroke-width="0.8" fill="none"/>
<rect x="420.0" y="651.9" width="5.8" height="67.9" fill="#e81824"/>
<path d="M432.0,658.4V655.0M430.5,655.0h3" stroke="#2db13c" stroke-width="0.8" fill="none"/>
<rect x="429.1" y="658.4" width="5.8" height="61.4" fill="#2db13c"/>
<path d="M441.1,655.0V650.7M439.6,650.7h3" stroke="#7b3c9a" stroke-width="0.8" fill="none"/>
<rect x="438.2" y="655.0" width="5.8" height="64.8" fill="#7b3c9a"/>
<path d="M450.2,660.3V658.9M448.7,658.9h3" stroke="#f0841c" stroke-width="0.8" fill="none"/>
<rect x="447.3" y="660.3" width="5.8" height="59.5" fill="#f0841c"/>
<line x1="484" y1="720.5" x2="484" y2="724.5" stroke="#1a1a1a" stroke-width="1.2"/>
<text x="484" y="736.0" font-size="9.3" text-anchor="middle" font-weight="normal" fill="#222" >Liver</text>
<path d="M465.8,617.4V614.0M464.3,614.0h3" stroke="#1c47a3" stroke-width="0.8" fill="none"/>
<rect x="462.9" y="617.4" width="5.8" height="102.4" fill="#1c47a3"/>
<path d="M474.9,628.1V625.6M473.4,625.6h3" stroke="#e81824" stroke-width="0.8" fill="none"/>
<rect x="472.0" y="628.1" width="5.8" height="91.7" fill="#e81824"/>
<path d="M484.0,634.3V631.8M482.5,631.8h3" stroke="#2db13c" stroke-width="0.8" fill="none"/>
<rect x="481.1" y="634.3" width="5.8" height="85.5" fill="#2db13c"/>
<path d="M493.1,637.2V635.2M491.6,635.2h3" stroke="#7b3c9a" stroke-width="0.8" fill="none"/>
<rect x="490.2" y="637.2" width="5.8" height="82.6" fill="#7b3c9a"/>
<path d="M502.2,644.2V643.1M500.7,643.1h3" stroke="#f0841c" stroke-width="0.8" fill="none"/>
<rect x="499.3" y="644.2" width="5.8" height="75.6" fill="#f0841c"/>
<line x1="534.7" y1="720.5" x2="534.7" y2="724.5" stroke="#1a1a1a" stroke-width="1.2"/>
<text x="534.7" y="736.0" font-size="9.3" text-anchor="middle" font-weight="normal" fill="#222" >Kindey</text>
<path d="M516.5,647.6V646.8M515.0,646.8h3" stroke="#1c47a3" stroke-width="0.8" fill="none"/>
<rect x="513.6" y="647.6" width="5.8" height="72.2" fill="#1c47a3"/>
<path d="M525.6,666.3V664.0M524.1,664.0h3" stroke="#e81824" stroke-width="0.8" fill="none"/>
<rect x="522.7" y="666.3" width="5.8" height="53.5" fill="#e81824"/>
<path d="M534.7,675.3V673.6M533.2,673.6h3" stroke="#2db13c" stroke-width="0.8" fill="none"/>
<rect x="531.8" y="675.3" width="5.8" height="44.5" fill="#2db13c"/>
<path d="M543.8,677.6V673.6M542.3,673.6h3" stroke="#7b3c9a" stroke-width="0.8" fill="none"/>
<rect x="540.9" y="677.6" width="5.8" height="42.2" fill="#7b3c9a"/>
<path d="M552.9,687.4V686.6M551.4,686.6h3" stroke="#f0841c" stroke-width="0.8" fill="none"/>
<rect x="550.0" y="687.4" width="5.8" height="32.4" fill="#f0841c"/>
<line x1="586" y1="720.5" x2="586" y2="724.5" stroke="#1a1a1a" stroke-width="1.2"/>
<text x="586" y="736.0" font-size="9.3" text-anchor="middle" font-weight="normal" fill="#222" >Spleen</text>
<path d="M567.8,656.7V654.1M566.3,654.1h3" stroke="#1c47a3" stroke-width="0.8" fill="none"/>
<rect x="564.9" y="656.7" width="5.8" height="63.1" fill="#1c47a3"/>
<path d="M576.9,661.2V659.5M575.4,659.5h3" stroke="#e81824" stroke-width="0.8" fill="none"/>
<rect x="574.0" y="661.2" width="5.8" height="58.6" fill="#e81824"/>
<path d="M586.0,671.1V669.4M584.5,669.4h3" stroke="#2db13c" stroke-width="0.8" fill="none"/>
<rect x="583.1" y="671.1" width="5.8" height="48.7" fill="#2db13c"/>
<path d="M595.1,676.1V673.3M593.6,673.3h3" stroke="#7b3c9a" stroke-width="0.8" fill="none"/>
<rect x="592.2" y="676.1" width="5.8" height="43.7" fill="#7b3c9a"/>
<path d="M604.2,679.5V673.9M602.7,673.9h3" stroke="#f0841c" stroke-width="0.8" fill="none"/>
<rect x="601.3" y="679.5" width="5.8" height="40.3" fill="#f0841c"/>
<line x1="638" y1="720.5" x2="638" y2="724.5" stroke="#1a1a1a" stroke-width="1.2"/>
<text x="638" y="736.0" font-size="9.3" text-anchor="middle" font-weight="normal" fill="#222" >Tumor</text>
<path d="M619.8,575.0V571.6M618.3,571.6h3" stroke="#1c47a3" stroke-width="0.8" fill="none"/>
<rect x="616.9" y="575.0" width="5.8" height="144.8" fill="#1c47a3"/>
<path d="M628.9,588.6V585.7M627.4,585.7h3" stroke="#e81824" stroke-width="0.8" fill="none"/>
<rect x="626.0" y="588.6" width="5.8" height="131.2" fill="#e81824"/>
<path d="M638.0,578.4V575.6M636.5,575.6h3" stroke="#2db13c" stroke-width="0.8" fill="none"/>
<rect x="635.1" y="578.4" width="5.8" height="141.4" fill="#2db13c"/>
<path d="M647.1,585.5V584.6M645.6,584.6h3" stroke="#7b3c9a" stroke-width="0.8" fill="none"/>
<rect x="644.2" y="585.5" width="5.8" height="134.3" fill="#7b3c9a"/>
<path d="M656.2,596.2V593.4M654.7,593.4h3" stroke="#f0841c" stroke-width="0.8" fill="none"/>
<rect x="653.3" y="596.2" width="5.8" height="123.6" fill="#f0841c"/>
<text transform="translate(378,641) rotate(-90)" font-size="9" text-anchor="middle" fill="#222">CNR</text>
<rect x="413" y="557.7" width="9.6" height="2.6" fill="#1c47a3"/>
<text x="426" y="562.1" font-size="8.9" text-anchor="start" font-weight="normal" fill="#222" >5min</text>
<rect x="413" y="571.0" width="9.6" height="2.6" fill="#e81824"/>
<text x="426" y="575.35" font-size="8.9" text-anchor="start" font-weight="normal" fill="#222" >15min</text>
<rect x="413" y="584.2" width="9.6" height="2.6" fill="#2db13c"/>
<text x="426" y="588.6" font-size="8.9" text-anchor="start" font-weight="normal" fill="#222" >30min</text>
<rect x="413" y="597.5" width="9.6" height="2.6" fill="#7b3c9a"/>
<text x="426" y="601.85" font-size="8.9" text-anchor="start" font-weight="normal" fill="#222" >60min</text>
<rect x="413" y="610.7" width="9.6" height="2.6" fill="#f0841c"/>
<text x="426" y="615.1" font-size="8.9" text-anchor="start" font-weight="normal" fill="#222" >180min</text>
<text x="655.8" y="593.2" font-size="8.3" text-anchor="middle" font-weight="bold" fill="#222" >***</text>
</g>
</svg></body></html>
